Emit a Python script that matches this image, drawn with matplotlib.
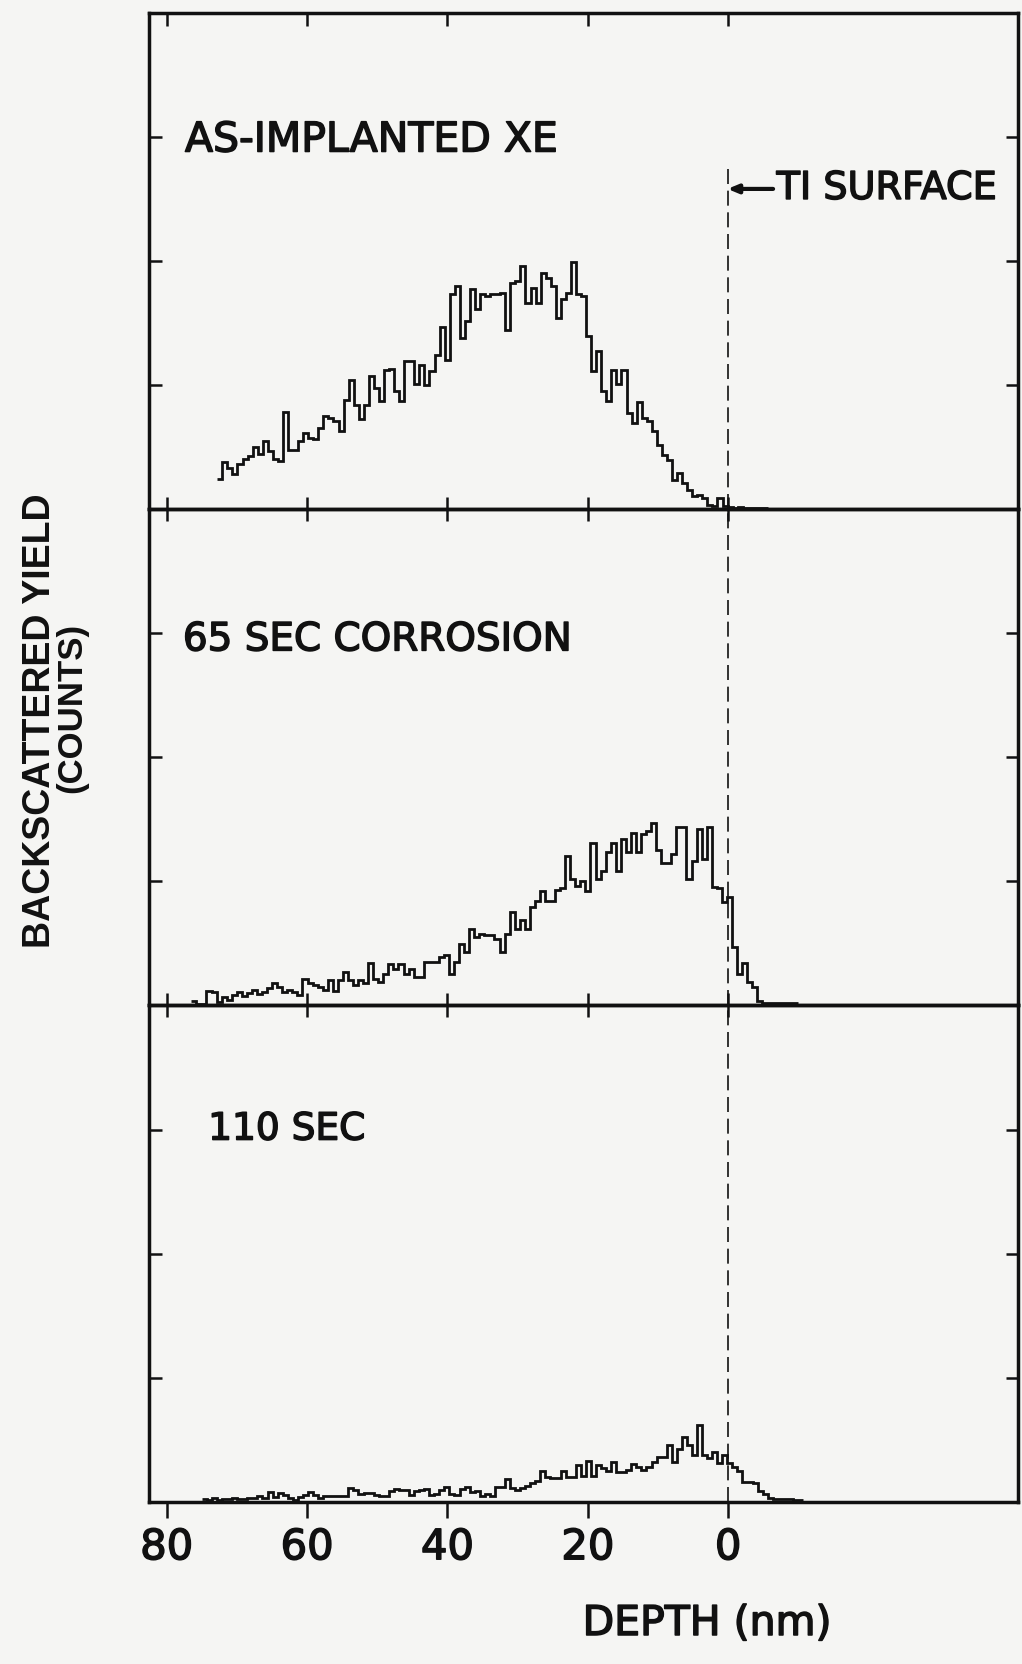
import numpy as np
import matplotlib
matplotlib.use("Agg")
import matplotlib.pyplot as plt
import matplotlib.patheffects as pe

# depth axis (nm) and channel layout of the spectra
depth_ticks = [80, 60, 40, 20, 0]
depth_ticklabels = ["80", "60", "40", "20", "0"]
yield_ticks = [100, 200, 300]
channel_width = 0.72

# as-implanted Xe, first channel starts at 72.8 nm
as_implanted_start = 72.8
as_implanted = [
    24.5, 38, 33, 28.5, 36, 40, 42.5, 50, 44.5, 55, 46.5, 40.6, 38.5,
    78, 48, 48, 54.6, 61, 57, 56.8, 65, 74.8, 73.4, 70.7, 63,
    88, 104, 84, 73, 84, 107, 97.6, 87, 112, 113, 95, 87,
    119.7, 119.7, 101, 116.5, 99.8, 111, 124.5, 146.6, 120.5, 173, 179.7, 138, 151.4, 177, 161,
    173, 171.6, 173.5, 173, 174, 144, 182.4, 183.7, 195.8, 166, 178, 166, 190.4, 186.4, 179.7,
    154, 169, 174, 199.3, 173, 171.6,
    139.3, 111, 127, 95, 87, 112.4, 101, 112.4, 77.5, 69.4, 86.3, 73.4, 70.7, 62.7, 52, 43.8,
    39.8, 23.7, 29, 21, 15.6, 10.2, 11.6, 8.9, 3.5, 2.2, 8.9, 2.2,
    1.5, 1, 1.8, 1, 1.2, 0.8, 1, 0.5,
]

# 65 s corrosion, first channel starts at 76.5 nm
sec65_start = 76.5
sec65 = [
    3.4, 1, 1.5, 11.7, 11, 2.9, 6.9, 4.7, 8.8, 11, 7.4, 10, 12.8, 9, 11,
    14.4, 18.1, 14.9, 11, 12.8, 11, 8.2, 21, 18, 16.3, 15, 12.2, 20.3, 11.7, 20.3,
    27, 20.3, 16.3, 20.3, 18, 34.2, 21.6, 19, 25.6, 33.7, 29.7, 33.7, 25.6, 29.7, 23,
    23, 35, 35, 35, 39, 40.4, 25.6, 35, 49.8, 43, 61.8, 55,
    57.8, 56.5, 56.5, 53.8, 43, 57.8, 75.2, 61.8, 68.5, 61.8, 79, 84.6, 92.6, 84.6, 84.6, 93, 94.8,
    120.8, 102, 95.9, 100.7, 92.6, 130.7, 102, 108.7, 123.5, 130.7, 108.7, 134, 123.5, 138.7,
    123.5, 138, 140.9,
    146.8, 125.3, 114.6, 114.6, 122, 144, 144, 102, 116.8, 142, 118, 144, 95.3, 94.8, 83.3, 87.3,
    47, 25.6, 34, 18.9, 14.7, 4, 2.1, 1.9, 2.4, 1.9, 2.4, 1.9, 2.4,
]

# 110 s corrosion, first channel starts at 75 nm
sec110_start = 75.0
sec110 = [
    2.2, 1.7, 2.8, 1.7, 2.2, 2.2, 2.8, 2.2, 2.2, 3, 2.8, 4.4, 2.8,
    7.6, 3.6, 7.1, 5.7, 3, 1.7, 3.6, 5.7, 7.6, 5.7, 3, 4.4, 4.4, 4.4, 5, 4.4,
    11.1, 9.7, 6.5, 7.1, 7.1, 5.7, 4.4, 4.4, 8.4, 10.3, 9.7, 9.7, 5.7, 8.4, 9.7, 10.3,
    5.7, 6.5, 9.7, 11.9, 6.5, 5.7, 10.3, 11.9, 7.6, 8.4, 4.4, 6.5, 4.4, 11.9, 11.9,
    18.3, 11.1, 9.7, 11.1, 13, 15.1, 17.2, 25.3, 19.9, 19.1, 19.1, 25.3, 19.9, 19.9, 29.8, 21,
    33.3, 20.5, 29.8, 27.2, 24.5, 32.5, 23.7, 23.7, 25.8, 30.6, 28.5, 25.8, 28.5, 32.5, 36.5, 36,
    45.9, 32.5, 42.4, 52.6, 45.9, 37.9, 62, 37.9, 35.2, 40.6, 31.2, 37.9, 31.2, 28.5, 24.5,
    16.4, 16.4, 15.6, 8.4, 6.5, 3, 2.5, 2.2, 2.2, 2, 1.7, 1.7,
]

panel_labels = ["AS-IMPLANTED XE", "65 SEC CORROSION", "110 SEC"]
label_x = [77.4, 77.7, 74.1]
label_y = [297, 295, 300]
label_size = [29.5, 28, 27]

bg = "#f5f5f3"
ink = "#111111"
bold_fx = [pe.withStroke(linewidth=1.1, foreground=ink)]

W, H = 1022, 1664
fig = plt.figure(figsize=(W / 100, H / 100), dpi=100, facecolor=bg)

left_px, right_px = 148.5, 1018
top_px, panel_h = 12.7, 496.4

spectra = [
    (as_implanted_start, as_implanted),
    (sec65_start, sec65),
    (sec110_start, sec110),
]

axes = []
for i in range(3):
    bottom_px = top_px + panel_h * (i + 1)
    rect = [left_px / W, 1 - bottom_px / H, (right_px - left_px) / W, panel_h / H]
    ax = fig.add_axes(rect)
    ax.set_facecolor("none")
    ax.set_xlim(82.6, -41.3)
    ax.set_ylim(0, 400)
    ax.set_xticks(depth_ticks)
    ax.set_yticks(yield_ticks)
    ax.tick_params(axis="y", direction="in", left=True, right=True,
                   labelleft=False, length=9, width=1.8, color=ink)
    for sp in ax.spines.values():
        sp.set_linewidth(2.5)
        sp.set_color(ink)

    start, vals = spectra[i]
    edges = start - channel_width * np.arange(len(vals) + 1)
    ax.stairs(np.array(vals)[::-1], edges[::-1], baseline=None,
              color=ink, lw=2.0)

    ax.text(label_x[i], label_y[i], panel_labels[i], fontsize=label_size[i],
            color=ink, ha="left", va="center", path_effects=bold_fx)
    axes.append(ax)

ax1, ax2, ax3 = axes

ax1.tick_params(axis="x", direction="in", top=True, bottom=False,
                labelbottom=False, length=9, width=1.8, color=ink)
ax2.tick_params(axis="x", direction="inout", top=True, bottom=True,
                labelbottom=False, length=17, width=1.8, color=ink)
ax3.tick_params(axis="x", direction="out", top=False, bottom=True,
                length=11.5, width=1.8, color=ink, labelsize=30,
                labelcolor=ink, pad=6)
ax3.set_xticklabels(depth_ticklabels)
for lab in ax3.get_xticklabels():
    lab.set_path_effects(bold_fx)

# Ti surface marker
dash = (0, (9, 4))
ax1.axvline(0, ymin=0, ymax=279 / 400, color=ink, lw=1.2, ls=dash)
ax2.axvline(0, color=ink, lw=1.2, ls=dash)
ax3.axvline(0, color=ink, lw=1.2, ls=dash)

ax1.annotate("", xy=(0.1, 258), xytext=(-6.4, 258),
             arrowprops=dict(arrowstyle="-|>,head_length=0.6,head_width=0.25",
                             lw=3.0, color=ink, shrinkA=0, shrinkB=0))
ax1.text(-6.9, 258, "TI SURFACE", fontsize=27.5, color=ink,
         ha="left", va="center", path_effects=bold_fx)

fig.text(707 / W, 1 - 1624 / H, "DEPTH (nm)", fontsize=29.5, color=ink,
         ha="center", va="center", path_effects=bold_fx)
fig.text(40 / W, 1 - 721 / H, "BACKSCATTERED YIELD", fontsize=27,
         family="Liberation Sans", fontweight="bold", rotation=90, color=ink,
         ha="center", va="center")
fig.text(72 / W, 1 - 708 / H, "(COUNTS)", fontsize=25,
         family="Liberation Sans", fontweight="bold", rotation=90, color=ink,
         ha="center", va="center")

fig.savefig("out.png", dpi=100, facecolor=bg)
